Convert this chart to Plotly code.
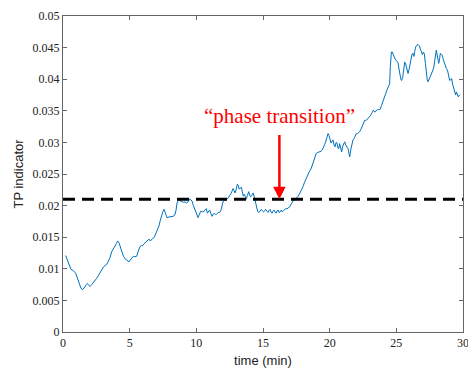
import plotly.graph_objects as go

# TP indicator time series
time_min = [
    0.2, 0.33, 0.45, 0.6, 0.78, 0.95, 1.05, 1.15, 1.25, 1.35, 1.48, 1.57, 1.65, 1.75, 1.83, 1.93,
    2.03, 2.15, 2.28, 2.4, 2.53, 2.65, 2.78, 2.9, 3.03, 3.15, 3.28, 3.4, 3.53, 3.65, 3.78, 3.9,
    4.0, 4.1, 4.2, 4.28, 4.35, 4.45, 4.53, 4.65, 4.78, 4.88, 4.95, 5.05, 5.15, 5.28, 5.4, 5.53,
    5.65, 5.78, 5.88, 5.95, 6.05, 6.15, 6.28, 6.38, 6.45, 6.55, 6.62, 6.72, 6.85, 6.98, 7.1, 7.2,
    7.3, 7.4, 7.5, 7.58, 7.68, 7.8, 7.95, 8.1, 8.25, 8.38, 8.48, 8.55, 8.65, 8.75, 8.9, 9.05,
    9.15, 9.25, 9.38, 9.5, 9.6, 9.68, 9.78, 9.88, 9.98, 10.05, 10.13, 10.2, 10.33, 10.45, 10.58,
    10.68, 10.75, 10.83, 10.92, 11.0, 11.1, 11.18, 11.25, 11.33, 11.42, 11.5, 11.63, 11.75, 11.85,
    11.93, 12.0, 12.1, 12.25, 12.38, 12.5, 12.6, 12.68, 12.75, 12.83, 12.9, 12.98, 13.08, 13.15,
    13.22, 13.3, 13.38, 13.45, 13.52, 13.6, 13.68, 13.75, 13.83, 13.93, 14.0, 14.08, 14.15, 14.25,
    14.33, 14.42, 14.5, 14.6, 14.68, 14.78, 14.88, 14.98, 15.05, 15.13, 15.2, 15.3, 15.38, 15.45,
    15.53, 15.6, 15.68, 15.75, 15.83, 15.9, 15.98, 16.05, 16.13, 16.2, 16.28, 16.38, 16.45, 16.53,
    16.6, 16.7, 16.8, 16.9, 17.0, 17.1, 17.2, 17.3, 17.4, 17.5, 17.6, 17.7, 17.8, 17.9, 18.0,
    18.1, 18.2, 18.3, 18.4, 18.5, 18.6, 18.7, 18.8, 18.9, 19.0, 19.1, 19.25, 19.35, 19.45, 19.55,
    19.63, 19.7, 19.78, 19.88, 19.95, 20.03, 20.1, 20.18, 20.25, 20.33, 20.4, 20.48, 20.55, 20.62,
    20.68, 20.75, 20.83, 20.9, 20.98, 21.05, 21.13, 21.2, 21.3, 21.38, 21.45, 21.5, 21.58, 21.65,
    21.75, 21.83, 21.93, 22.0, 22.1, 22.18, 22.25, 22.35, 22.45, 22.55, 22.63, 22.75, 22.88, 23.0,
    23.08, 23.18, 23.28, 23.38, 23.48, 23.58, 23.68, 23.78, 23.88, 24.0, 24.1, 24.2, 24.3, 24.4,
    24.5, 24.55, 24.6, 24.63, 24.7, 24.78, 24.88, 24.98, 25.05, 25.13, 25.2, 25.27, 25.35, 25.4,
    25.48, 25.55, 25.63, 25.7, 25.78, 25.88, 25.95, 26.03, 26.1, 26.18, 26.25, 26.32, 26.38, 26.45,
    26.55, 26.63, 26.72, 26.8, 26.88, 26.95, 27.03, 27.1, 27.18, 27.25, 27.32, 27.38, 27.45, 27.53,
    27.63, 27.72, 27.8, 27.88, 27.95, 28.0, 28.05, 28.1, 28.18, 28.25, 28.3, 28.38, 28.45, 28.52,
    28.6, 28.68, 28.75, 28.85, 28.92, 29.0, 29.08, 29.15, 29.22, 29.3, 29.38, 29.45, 29.5, 29.58,
    29.65, 29.75,
]
tp_indicator = [
    0.0121, 0.0113, 0.0105, 0.0099, 0.0097, 0.0093, 0.0087, 0.0080, 0.0074, 0.0069, 0.0067, 0.0069,
    0.0072, 0.0075, 0.0077, 0.0074, 0.0072, 0.0075, 0.0078, 0.0081, 0.0085, 0.0089, 0.0094, 0.0099,
    0.0103, 0.0105, 0.0107, 0.0112, 0.0118, 0.0127, 0.0131, 0.0136, 0.0140, 0.0144, 0.0141, 0.0135,
    0.0130, 0.0124, 0.0120, 0.0116, 0.0114, 0.0112, 0.0111, 0.0114, 0.0117, 0.0120, 0.0119, 0.0120,
    0.0128, 0.0135, 0.0137, 0.0136, 0.0139, 0.0141, 0.0143, 0.0145, 0.0147, 0.0144, 0.0146, 0.0148,
    0.0150, 0.0156, 0.0162, 0.0168, 0.0177, 0.0186, 0.0191, 0.0194, 0.0186, 0.0181, 0.0182, 0.0182,
    0.0183, 0.0185, 0.0193, 0.0204, 0.0208, 0.0208, 0.0206, 0.0205, 0.0206, 0.0204, 0.0206, 0.0210,
    0.0209, 0.0207, 0.0200, 0.0194, 0.0188, 0.0184, 0.0181, 0.0185, 0.0191, 0.0190, 0.0191, 0.0194,
    0.0195, 0.0188, 0.0191, 0.0193, 0.0187, 0.0183, 0.0186, 0.0188, 0.0186, 0.0186, 0.0189, 0.0189,
    0.0193, 0.0200, 0.0206, 0.0208, 0.0209, 0.0212, 0.0215, 0.0219, 0.0223, 0.0227, 0.0224, 0.0220,
    0.0225, 0.0234, 0.0231, 0.0226, 0.0228, 0.0229, 0.0222, 0.0215, 0.0218, 0.0215, 0.0210, 0.0216,
    0.0222, 0.0217, 0.0214, 0.0216, 0.0220, 0.0215, 0.0206, 0.0199, 0.0191, 0.0189, 0.0192, 0.0194,
    0.0191, 0.0190, 0.0192, 0.0194, 0.0191, 0.0189, 0.0192, 0.0194, 0.0190, 0.0188, 0.0191, 0.0193,
    0.0190, 0.0188, 0.0191, 0.0193, 0.0189, 0.0190, 0.0193, 0.0190, 0.0192, 0.0194, 0.0195, 0.0195,
    0.0196, 0.0198, 0.0202, 0.0206, 0.0209, 0.0209, 0.0211, 0.0214, 0.0217, 0.0221, 0.0225, 0.0230,
    0.0236, 0.0241, 0.0246, 0.0252, 0.0255, 0.0258, 0.0265, 0.0272, 0.0280, 0.0283, 0.0284, 0.0285,
    0.0286, 0.0288, 0.0292, 0.0297, 0.0301, 0.0306, 0.0314, 0.0311, 0.0306, 0.0299, 0.0302, 0.0304,
    0.0296, 0.0293, 0.0300, 0.0299, 0.0291, 0.0290, 0.0298, 0.0290, 0.0285, 0.0294, 0.0298, 0.0301,
    0.0296, 0.0292, 0.0290, 0.0282, 0.0277, 0.0288, 0.0296, 0.0304, 0.0306, 0.0311, 0.0314, 0.0314,
    0.0315, 0.0317, 0.0321, 0.0326, 0.0332, 0.0335, 0.0335, 0.0338, 0.0340, 0.0343, 0.0347, 0.0351,
    0.0348, 0.0350, 0.0352, 0.0352, 0.0352, 0.0358, 0.0364, 0.0370, 0.0377, 0.0383, 0.0388, 0.0393,
    0.0420, 0.0440, 0.0443, 0.0443, 0.0438, 0.0433, 0.0430, 0.0428, 0.0426, 0.0416, 0.0406, 0.0399,
    0.0398, 0.0403, 0.0415, 0.0427, 0.0424, 0.0416, 0.0409, 0.0415, 0.0424, 0.0433, 0.0440, 0.0441,
    0.0436, 0.0444, 0.0451, 0.0454, 0.0455, 0.0453, 0.0449, 0.0444, 0.0439, 0.0443, 0.0440, 0.0425,
    0.0407, 0.0399, 0.0396, 0.0399, 0.0404, 0.0409, 0.0413, 0.0418, 0.0430, 0.0441, 0.0446, 0.0440,
    0.0433, 0.0425, 0.0433, 0.0441, 0.0439, 0.0438, 0.0431, 0.0425, 0.0420, 0.0417, 0.0413, 0.0407,
    0.0398, 0.0399, 0.0401, 0.0392, 0.0385, 0.0378, 0.0375, 0.0380, 0.0376, 0.0372, 0.0375,
]

# Threshold level and marked transition point
threshold = 0.021
transition_time = 16.23
arrow_start = 0.0314
label_y = 0.0342

x_ticks = [0, 5, 10, 15, 20, 25, 30]
y_ticks = [0, 0.005, 0.01, 0.015, 0.02, 0.025, 0.03, 0.035, 0.04, 0.045, 0.05]
y_tick_text = ["0", "0.005", "0.01", "0.015", "0.02", "0.025", "0.03", "0.035", "0.04", "0.045", "0.05"]

fig = go.Figure()
fig.add_trace(go.Scatter(
    x=time_min, y=tp_indicator, mode="lines",
    line=dict(color="#0072BD", width=1), showlegend=False,
))
fig.add_trace(go.Scatter(
    x=[0, 30], y=[threshold, threshold], mode="lines",
    line=dict(color="black", width=3, dash="12px,7px"), showlegend=False,
))

fig.add_annotation(
    x=transition_time, y=threshold, ax=transition_time, ay=arrow_start,
    xref="x", yref="y", axref="x", ayref="y",
    showarrow=True, arrowhead=2, arrowsize=1, arrowwidth=2.5, arrowcolor="red",
    text="",
)
fig.add_annotation(
    x=transition_time, y=label_y, xref="x", yref="y",
    text="\u201cphase transition\u201d", showarrow=False,
    font=dict(family="Liberation Serif", size=21, color="red"),
)

axis_common = dict(
    showline=True, linecolor="#666666", linewidth=1, mirror="ticks",
    ticks="inside", ticklen=4, tickcolor="#666666", tickwidth=1,
    showgrid=False, zeroline=False, automargin=False,
    tickfont=dict(family="Liberation Serif", size=12, color="#222222"),
)
fig.update_xaxes(
    range=[0, 30], tickvals=x_ticks, ticktext=[str(v) for v in x_ticks],
    ticklabeloverflow="allow",
    title=dict(text="time (min)", font=dict(family="Liberation Sans", size=13, color="#222222"), standoff=6),
    **axis_common,
)
fig.update_yaxes(
    range=[0, 0.05], tickvals=y_ticks, ticktext=y_tick_text,
    title=dict(text="TP indicator", font=dict(family="Liberation Sans", size=13, color="#222222"), standoff=6),
    **axis_common,
)
fig.update_layout(
    width=468, height=370,
    margin=dict(l=63, r=5, t=16, b=38),
    plot_bgcolor="white", paper_bgcolor="white",
)
fig.write_html("out.html")
